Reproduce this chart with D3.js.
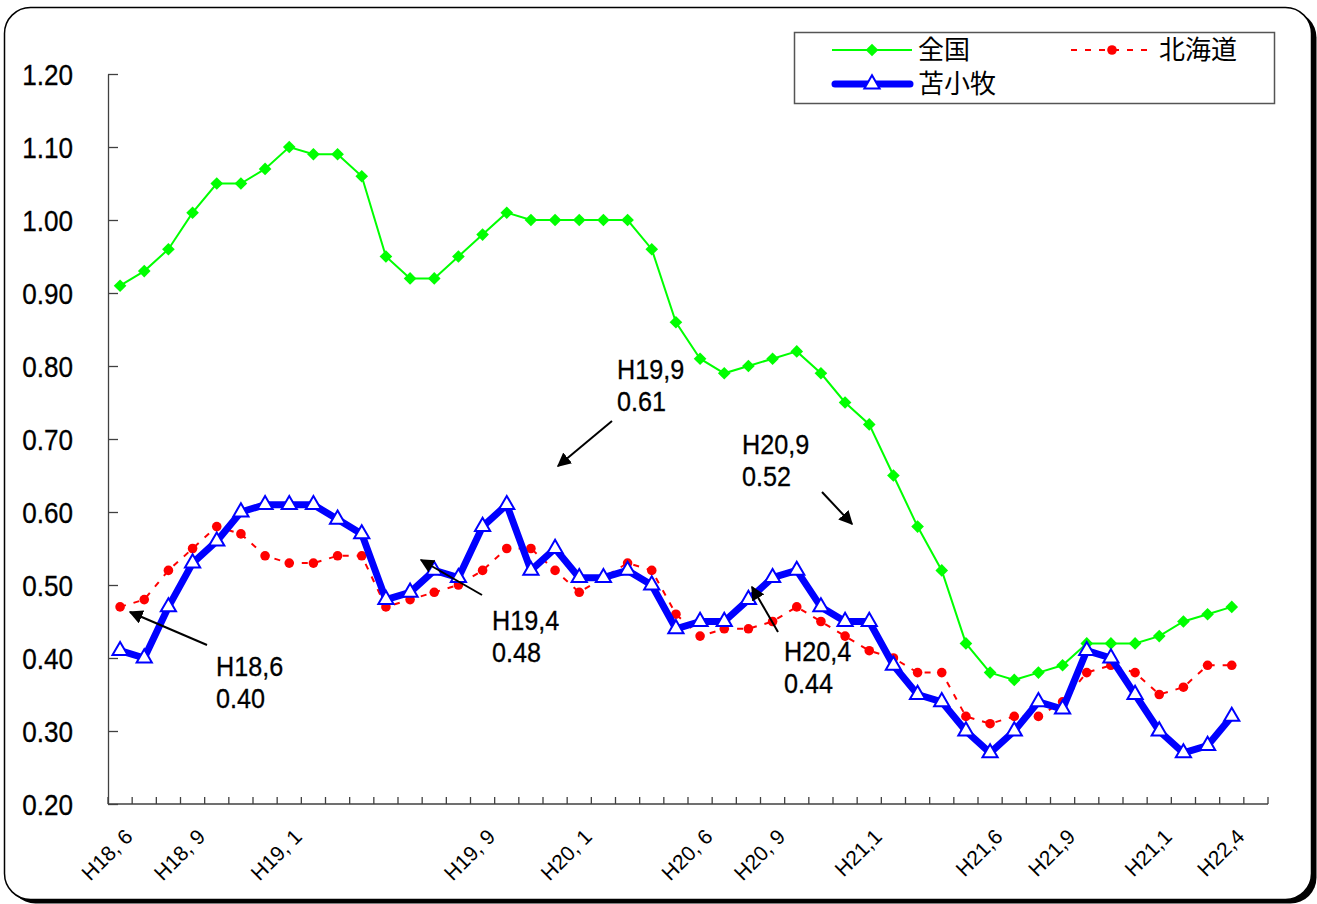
<!DOCTYPE html>
<html>
<head>
<meta charset="utf-8">
<script src="https://cdn.jsdelivr.net/npm/d3@7"></script>
<style>
  body { margin: 0; background: #fff; }
  svg { display: block; }
  text { font-family: "Liberation Sans", Arial, sans-serif; fill: #000; }
  .jp { font-family: "Noto Sans CJK JP", sans-serif; }
</style>
</head>
<body>
<svg id="chart"></svg>
<script>
// months on the x axis (last slot is empty, as in the original)
const months = [
  "H18,6","H18,7","H18,8","H18,9","H18,10","H18,11","H18,12",
  "H19,1","H19,2","H19,3","H19,4","H19,5","H19,6","H19,7","H19,8","H19,9","H19,10","H19,11","H19,12",
  "H20,1","H20,2","H20,3","H20,4","H20,5","H20,6","H20,7","H20,8","H20,9","H20,10","H20,11","H20,12",
  "H21,1","H21,2","H21,3","H21,4","H21,5","H21,6","H21,7","H21,8","H21,9","H21,10","H21,11","H21,12",
  "H22,1","H22,2","H22,3","H22,4","H22,5"
];

// 全国
const zenkoku = [0.91,0.93,0.96,1.01,1.05,1.05,1.07,1.10,1.09,1.09,
  1.06,0.95,0.92,0.92,0.95,0.98,1.01,1.00,1.00,1.00,
  1.00,1.00,0.96,0.86,0.81,0.79,0.80,0.81,0.82,0.79,
  0.75,0.72,0.65,0.58,0.52,0.42,0.38,0.37,0.38,0.39,
  0.42,0.42,0.42,0.43,0.45,0.46,0.47];

// 北海道
const hokkaido = [0.47,0.48,0.52,0.55,0.58,0.57,0.54,0.53,0.53,0.54,
  0.54,0.47,0.48,0.49,0.50,0.52,0.55,0.55,0.52,0.49,
  0.51,0.53,0.52,0.46,0.43,0.44,0.44,0.45,0.47,0.45,
  0.43,0.41,0.40,0.38,0.38,0.32,0.31,0.32,0.32,0.34,
  0.38,0.39,0.38,0.35,0.36,0.39,0.39];

// 苫小牧
const tomakomai = [0.41,0.40,0.47,0.53,0.56,0.60,0.61,0.61,0.61,0.59,
  0.57,0.48,0.49,0.52,0.51,0.58,0.61,0.52,0.55,0.51,
  0.51,0.52,0.50,0.44,0.45,0.45,0.48,0.51,0.52,0.47,
  0.45,0.45,0.39,0.35,0.34,0.30,0.27,0.30,0.34,0.33,
  0.41,0.40,0.35,0.30,0.27,0.28,0.32];

// labelled months and the text shown under them
const labelMonths = ["H18,6","H18,9","H19,1","H19,9","H20,1","H20,6","H20,9","H21,1","H21,6","H21,9","H22,1","H22,4"];
const labelTexts  = ["H18, 6","H18, 9","H19, 1","H19, 9","H20, 1","H20, 6","H20, 9","H21,1","H21,6","H21,9","H21,1","H22,4"];

const yTicks = [0.2,0.3,0.4,0.5,0.6,0.7,0.8,0.9,1.0,1.1,1.2];

// callouts
const notes = [
  { lines: ["H18,6", "0.40"], tx: 216, ty: 676, from: [207, 645], to: [130, 612] },
  { lines: ["H19,4", "0.48"], tx: 492, ty: 630, from: [482, 595], to: [421, 560] },
  { lines: ["H19,9", "0.61"], tx: 617, ty: 379, from: [612, 421], to: [558, 466] },
  { lines: ["H20,9", "0.52"], tx: 742, ty: 454, from: [822, 492], to: [852, 524] },
  { lines: ["H20,4", "0.44"], tx: 784, ty: 661, from: [778, 632], to: [752, 587] }
];

const width = 1317, height = 904;
const plotLeft = 108, plotRight = 1268, plotTop = 74, plotBottom = 804;

const svg = d3.select("#chart").attr("width", width).attr("height", height);

svg.append("defs").append("marker")
  .attr("id", "arrow")
  .attr("viewBox", "0 0 10 10")
  .attr("refX", 9).attr("refY", 5)
  .attr("markerWidth", 14).attr("markerHeight", 14)
  .attr("markerUnits", "userSpaceOnUse")
  .attr("orient", "auto")
  .append("path").attr("d", "M0,0 L10,5 L0,10 z").attr("fill", "#000");

// frame with shadow
svg.append("rect").attr("x", 9.5).attr("y", 11.5).attr("width", 1307).attr("height", 892)
  .attr("rx", 26).attr("fill", "#000");
svg.append("rect").attr("x", 4.5).attr("y", 7.5).attr("width", 1307).attr("height", 892)
  .attr("rx", 26).attr("fill", "#fff").attr("stroke", "#000").attr("stroke-width", 1.5);

const x = d3.scaleBand().domain(months).range([plotLeft, plotRight]).paddingInner(0).paddingOuter(0);
const y = d3.scaleLinear().domain([0.2, 1.2]).range([plotBottom, plotTop]);
const cx = (m) => x(m) + x.bandwidth() / 2;

// narrow text helper
function label(g, tx, ty, str, size, anchor, sx) {
  g.append("g").attr("transform", `translate(${tx},${ty}) scale(${sx},1)`)
    .append("text")
    .attr("font-size", size)
    .attr("text-anchor", anchor)
    .attr("stroke", "#000").attr("stroke-width", 0.3)
    .text(str);
}

// y axis
const yAxis = svg.append("g").attr("transform", `translate(${plotLeft},0)`)
  .call(d3.axisLeft(y).tickValues(yTicks).tickSizeInner(-10).tickSizeOuter(0).tickFormat(""));
yAxis.select(".domain").attr("stroke", "#404040").attr("stroke-width", 1.3);
yAxis.selectAll(".tick line").attr("stroke", "#404040").attr("stroke-width", 1.3);
yTicks.forEach((v) => label(svg, 73, y(v) + 10.5, d3.format(".2f")(v), 29, "end", 0.9));

// x axis with ticks at band edges
const xEdges = months.map((m) => x(m)).concat([plotRight]);
svg.append("line").attr("x1", plotLeft).attr("x2", plotRight).attr("y1", plotBottom).attr("y2", plotBottom)
  .attr("stroke", "#404040").attr("stroke-width", 1.3);
svg.append("g").selectAll("line").data(xEdges).enter().append("line")
  .attr("x1", (d) => d).attr("x2", (d) => d)
  .attr("y1", plotBottom).attr("y2", plotBottom - 7)
  .attr("stroke", "#404040").attr("stroke-width", 1.3);

labelMonths.forEach((m, i) => {
  svg.append("text")
    .attr("transform", `translate(${cx(m) + 14},838) rotate(-45)`)
    .attr("font-size", 21)
    .attr("text-anchor", "end")
    .text(labelTexts[i]);
});

// series
const line = (vals) => d3.line().x((d, i) => cx(months[i])).y((d) => y(d))(vals);

svg.append("path").attr("d", line(zenkoku)).attr("fill", "none")
  .attr("stroke", "#00ff00").attr("stroke-width", 2);
svg.append("g").selectAll("path").data(zenkoku).enter().append("path")
  .attr("d", d3.symbol(d3.symbolSquare, 80))
  .attr("transform", (d, i) => `translate(${cx(months[i])},${y(d)}) rotate(45)`)
  .attr("fill", "#00ff00");

svg.append("path").attr("d", line(hokkaido)).attr("fill", "none")
  .attr("stroke", "#ff0000").attr("stroke-width", 2).attr("stroke-dasharray", "6,8");
svg.append("g").selectAll("circle").data(hokkaido).enter().append("circle")
  .attr("cx", (d, i) => cx(months[i])).attr("cy", (d) => y(d)).attr("r", 4.8)
  .attr("fill", "#ff0000");

svg.append("path").attr("d", line(tomakomai)).attr("fill", "none")
  .attr("stroke", "#0000ff").attr("stroke-width", 7).attr("stroke-linejoin", "round");
svg.append("g").selectAll("path").data(tomakomai).enter().append("path")
  .attr("d", d3.symbol(d3.symbolTriangle, 100))
  .attr("transform", (d, i) => `translate(${cx(months[i])},${y(d)})`)
  .attr("fill", "#fff").attr("stroke", "#0000ff").attr("stroke-width", 2);

// callouts
notes.forEach((n) => {
  svg.append("line")
    .attr("x1", n.from[0]).attr("y1", n.from[1]).attr("x2", n.to[0]).attr("y2", n.to[1])
    .attr("stroke", "#000").attr("stroke-width", 2).attr("marker-end", "url(#arrow)");
  n.lines.forEach((t, k) => label(svg, n.tx, n.ty + k * 32, t, 28, "start", 0.9));
});

// legend
const lg = svg.append("g");
lg.append("rect").attr("x", 794.5).attr("y", 32.5).attr("width", 480).attr("height", 71)
  .attr("fill", "#fff").attr("stroke", "#555").attr("stroke-width", 1.5);

lg.append("line").attr("x1", 832).attr("x2", 912).attr("y1", 50).attr("y2", 50)
  .attr("stroke", "#00ff00").attr("stroke-width", 2);
lg.append("path").attr("d", d3.symbol(d3.symbolSquare, 80))
  .attr("transform", "translate(872,50) rotate(45)").attr("fill", "#00ff00");
lg.append("text").attr("class", "jp").attr("x", 918).attr("y", 50).attr("dy", "0.36em")
  .attr("font-size", 26).text("全国");

lg.append("line").attr("x1", 1071).attr("x2", 1153).attr("y1", 50).attr("y2", 50)
  .attr("stroke", "#ff0000").attr("stroke-width", 2).attr("stroke-dasharray", "6,8");
lg.append("circle").attr("cx", 1112).attr("cy", 50).attr("r", 4.8).attr("fill", "#ff0000");
lg.append("text").attr("class", "jp").attr("x", 1159).attr("y", 50).attr("dy", "0.36em")
  .attr("font-size", 26).text("北海道");

lg.append("line").attr("x1", 835).attr("x2", 910).attr("y1", 84).attr("y2", 84)
  .attr("stroke", "#0000ff").attr("stroke-width", 7).attr("stroke-linecap", "round");
lg.append("path").attr("d", d3.symbol(d3.symbolTriangle, 100))
  .attr("transform", "translate(872,84)")
  .attr("fill", "#fff").attr("stroke", "#0000ff").attr("stroke-width", 2);
lg.append("text").attr("class", "jp").attr("x", 918).attr("y", 84).attr("dy", "0.36em")
  .attr("font-size", 26).text("苫小牧");
</script>
</body>
</html>
